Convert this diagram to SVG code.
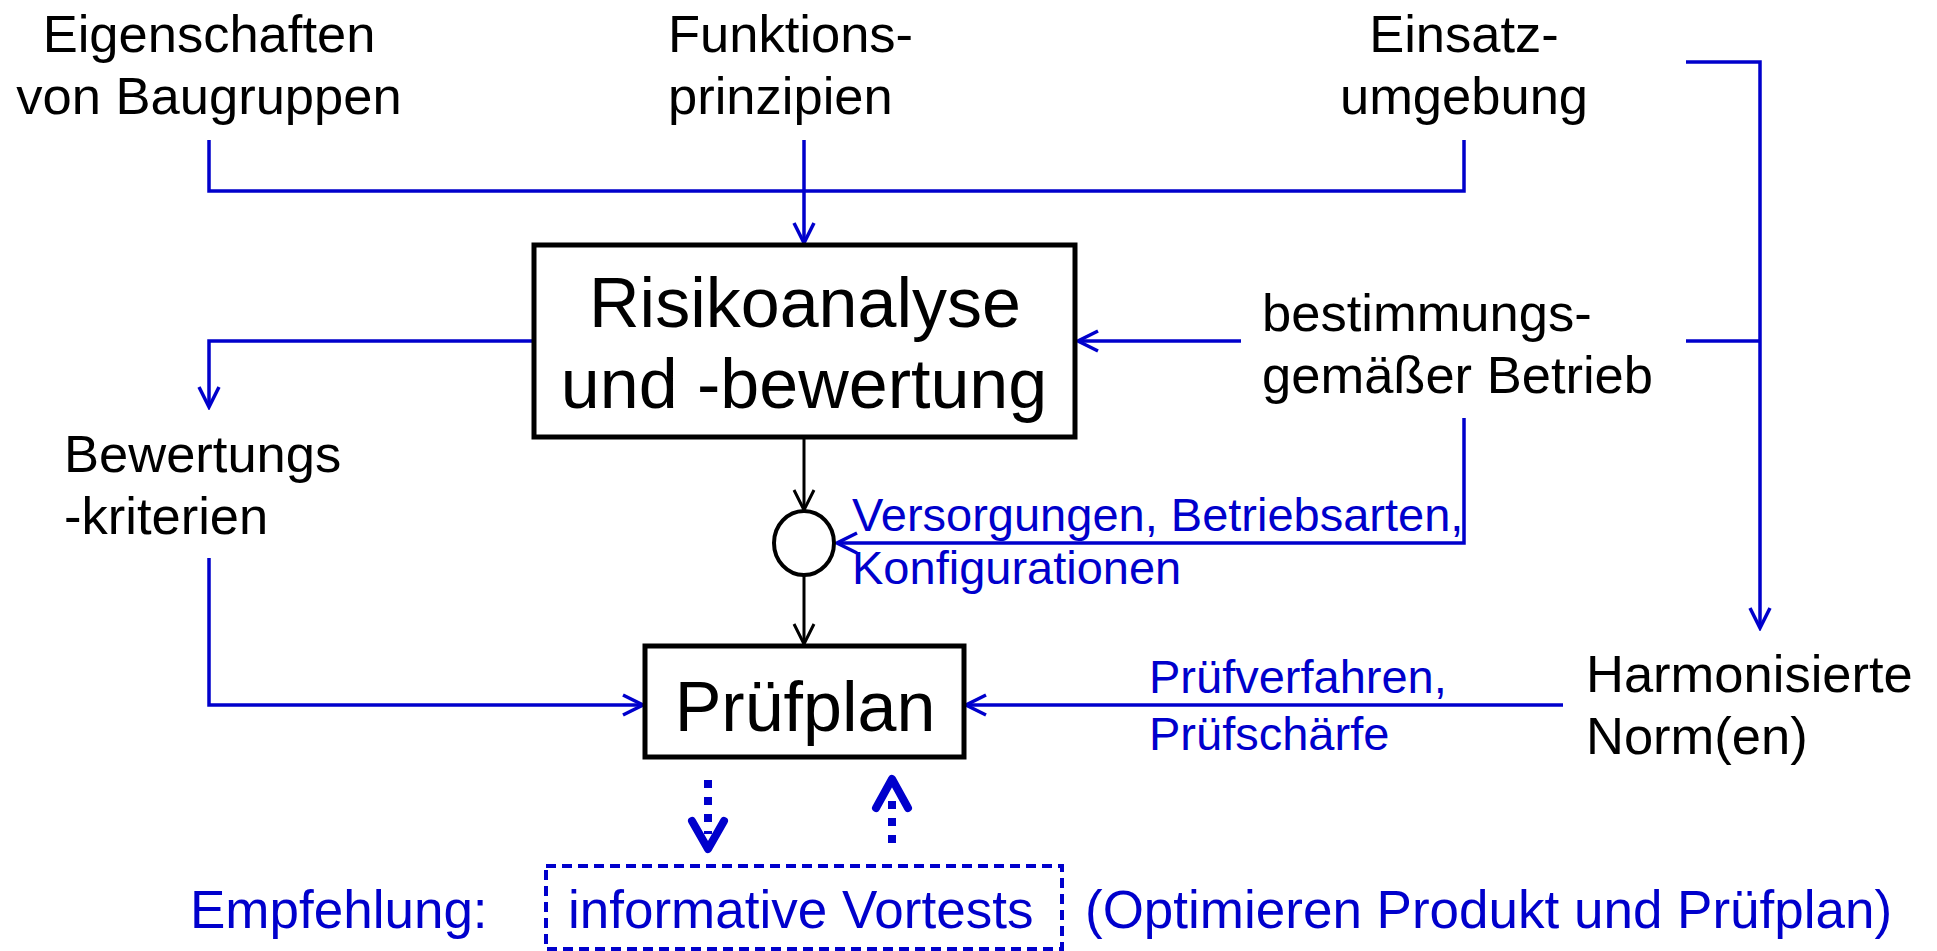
<svg xmlns="http://www.w3.org/2000/svg" width="1937" height="951" viewBox="0 0 1937 951">
<style>
.t{font-family:"Liberation Sans",Arial,sans-serif;font-size:52.5px;fill:#000}
.big{font-size:70px}
.b{fill:#0000CC}
.e{font-size:53px}
.s{font-size:47px}
.c{fill:none;stroke:#0000CC;stroke-width:3.5}
.k{fill:none;stroke:#000;stroke-width:3}
.box{fill:#fff;stroke:#000;stroke-width:5}
.dot{fill:none;stroke:#0000CC;stroke-width:8;stroke-dasharray:8 9}
.head{fill:none;stroke:#0000CC;stroke-width:8;stroke-linejoin:round;stroke-linecap:round}
</style>
<defs>
<marker id="ab" markerUnits="userSpaceOnUse" markerWidth="26" markerHeight="26" viewBox="-23 -13 26 26" refX="0" refY="0" orient="auto"><path d="M-20,-10 L0,0 L-20,10" fill="none" stroke="#0000CC" stroke-width="3.5"/></marker>
<marker id="ak" markerUnits="userSpaceOnUse" markerWidth="26" markerHeight="26" viewBox="-23 -13 26 26" refX="0" refY="0" orient="auto"><path d="M-20,-10 L0,0 L-20,10" fill="none" stroke="#000" stroke-width="3"/></marker>
</defs>
<rect width="1937" height="951" fill="#fff"/>
<g id="connectors">
<path class="c" d="M209,140 V191 H1464 V140"/>
<path class="c" d="M804,140 V243" marker-end="url(#ab)"/>
<path class="c" d="M1686,62 H1760 V628" marker-end="url(#ab)"/>
<path class="c" d="M1686,341 H1760"/>
<path class="c" d="M1241,341 H1078" marker-end="url(#ab)"/>
<path class="c" d="M534,341 H209 V407" marker-end="url(#ab)"/>
<path class="c" d="M209,558 V705 H643" marker-end="url(#ab)"/>
<path class="c" d="M1464,418 V543 H837" marker-end="url(#ab)"/>
<path class="c" d="M1563,705 H966" marker-end="url(#ab)"/>
<path class="k" d="M804,439 V510" marker-end="url(#ak)"/>
<path class="k" d="M804,576 V644" marker-end="url(#ak)"/>
<path class="dot" d="M708,780 V834"/>
<path class="head" d="M692,821 L708,849 L724,821"/>
<path class="dot" d="M892,843 V800"/>
<path class="head" d="M876,808 L892,779 L908,808"/>
</g>
<g id="eigenschaften"><text class="t" x="209" y="52" text-anchor="middle">Eigenschaften</text><text class="t" x="209" y="114" text-anchor="middle">von Baugruppen</text></g>
<g id="funktionsprinzipien"><text class="t" x="668" y="52">Funktions-</text><text class="t" x="668" y="114">prinzipien</text></g>
<g id="einsatzumgebung"><text class="t" x="1464" y="52" text-anchor="middle">Einsatz-</text><text class="t" x="1464" y="114" text-anchor="middle">umgebung</text></g>
<g id="risikoanalyse"><rect class="box" x="534" y="245" width="541" height="192"/><text class="t big" x="805" y="327" text-anchor="middle">Risikoanalyse</text><text class="t big" x="804" y="408" text-anchor="middle">und -bewertung</text></g>
<g id="bestimmung"><text class="t" x="1262" y="331">bestimmungs-</text><text class="t" x="1262" y="393">gemäßer Betrieb</text></g>
<g id="bewertungskriterien"><text class="t" x="64" y="472">Bewertungs</text><text class="t" x="64" y="534">-kriterien</text></g>
<g id="verknuepfung"><ellipse cx="804" cy="543" rx="30" ry="32" fill="#fff" stroke="#000" stroke-width="4"/></g>
<g id="versorgungen-label"><text class="t b s" x="852" y="531">Versorgungen, Betriebsarten,</text><text class="t b s" x="852" y="584">Konfigurationen</text></g>
<g id="pruefplan"><rect class="box" x="645" y="646" width="319" height="111"/><text class="t big" x="805" y="731" text-anchor="middle">Prüfplan</text></g>
<g id="harmonisierte"><text class="t" x="1586" y="692">Harmonisierte</text><text class="t" x="1586" y="754">Norm(en)</text></g>
<g id="pruefverfahren-label"><text class="t b s" x="1149" y="693">Prüfverfahren,</text><text class="t b s" x="1149" y="750">Prüfschärfe</text></g>
<g id="empfehlung"><text class="t b e" x="190" y="928">Empfehlung:</text></g>
<g id="vortests"><rect x="546" y="866" width="516" height="83" fill="none" stroke="#0000CC" stroke-width="4" stroke-dasharray="10 6"/><text class="t b e" x="568" y="928">informative Vortests</text></g>
<g id="optimieren"><text class="t b e" x="1085" y="928">(Optimieren Produkt und Prüfplan)</text></g>
</svg>
